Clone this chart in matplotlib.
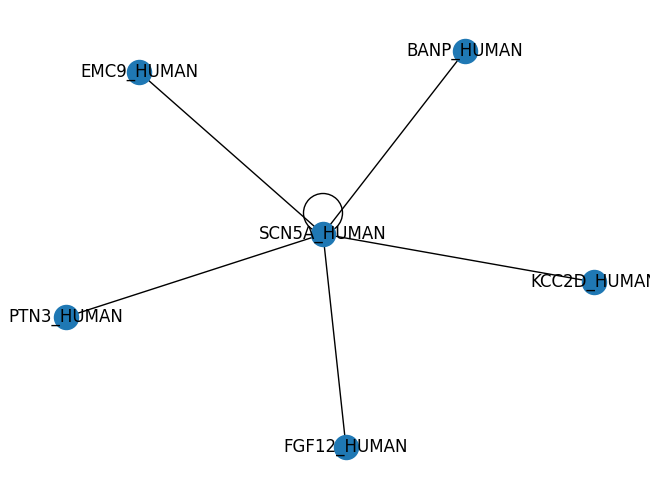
import matplotlib
matplotlib.use("Agg")
import matplotlib.pyplot as plt
from matplotlib.patches import Circle

# node layout (pixel-space positions)
nodes = ["SCN5A_HUMAN", "EMC9_HUMAN", "BANP_HUMAN", "KCC2D_HUMAN", "PTN3_HUMAN", "FGF12_HUMAN"]
pos_x = [323, 139, 465, 594, 66, 346]
pos_y = [234, 72, 51, 282, 317, 447]
edges = [("SCN5A_HUMAN", "EMC9_HUMAN"), ("SCN5A_HUMAN", "BANP_HUMAN"),
         ("SCN5A_HUMAN", "KCC2D_HUMAN"), ("SCN5A_HUMAN", "PTN3_HUMAN"),
         ("SCN5A_HUMAN", "FGF12_HUMAN")]
self_loops = ["SCN5A_HUMAN"]

pos = {n: (x, y) for n, x, y in zip(nodes, pos_x, pos_y)}

fig = plt.figure(figsize=(6.6, 4.99), dpi=100)
ax = fig.add_axes((0, 0, 650 / 660, 1))
ax.set_xlim(0, 650)
ax.set_ylim(499, 0)
ax.axis("off")

for a, b in edges:
    ax.plot([pos[a][0], pos[b][0]], [pos[a][1], pos[b][1]], color="k", lw=1, zorder=1)

for n in self_loops:
    x, y = pos[n]
    ax.add_patch(Circle((x, y - 21), 19.5, fill=False, ec="k", lw=1, zorder=1))

ax.scatter(pos_x, pos_y, s=300, c="#1f78b4", zorder=2)

for n in nodes:
    ax.text(pos[n][0], pos[n][1], n, fontsize=12, ha="center", va="center",
            zorder=3, clip_on=True)

fig.savefig("out.png", dpi=100)
